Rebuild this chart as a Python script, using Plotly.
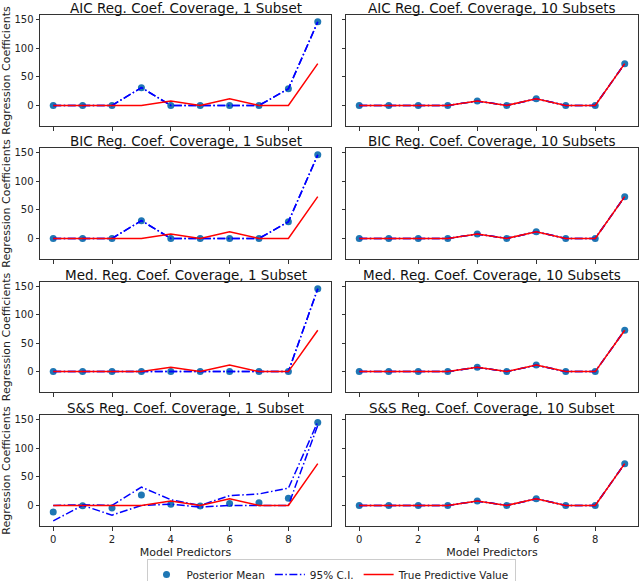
import plotly.graph_objects as go

# ---------------- data ----------------
predictors = [0, 1, 2, 3, 4, 5, 6, 7, 8, 9]
true_values = [0, 0, 0, 0, 7.5, 0, 11.5, 0, 0, 73]

aic1_mean = [0, 0, 0, 31, 0, 0, 0, 0, 29, 146]
aic1_lower = [0, 0, 0, 31, 0, 0, 0, 0, 29, 146]
aic1_upper = [0, 0, 0, 31, 0, 0, 0, 0, 29, 146]
aic10_mean = [0, 0, 0, 0, 7.5, 0, 11.5, 0, 0, 73]
aic10_lower = [0, 0, 0, 0, 7.5, 0, 11.5, 0, 0, 73]
aic10_upper = [0, 0, 0, 0, 7.5, 0, 11.5, 0, 0, 73]

bic1_mean = [0, 0, 0, 31, 0, 0, 0, 0, 29, 146]
bic1_lower = [0, 0, 0, 31, 0, 0, 0, 0, 29, 146]
bic1_upper = [0, 0, 0, 31, 0, 0, 0, 0, 29, 146]
bic10_mean = [0, 0, 0, 0, 7.5, 0, 11.5, 0, 0, 73]
bic10_lower = [0, 0, 0, 0, 7.5, 0, 11.5, 0, 0, 73]
bic10_upper = [0, 0, 0, 0, 7.5, 0, 11.5, 0, 0, 73]

med1_mean = [0, 0, 0, 0, 0, 0, 0, 0, 0, 146]
med1_lower = [0, 0, 0, 0, 0, 0, 0, 0, 0, 146]
med1_upper = [0, 0, 0, 0, 0, 0, 0, 0, 0, 146]
med10_mean = [0, 0, 0, 0, 7.5, 0, 11.5, 0, 0, 73]
med10_lower = [0, 0, 0, 0, 7.5, 0, 11.5, 0, 0, 73]
med10_upper = [0, 0, 0, 0, 7.5, 0, 11.5, 0, 0, 73]

ss1_mean = [-11.5, -0.5, -4.5, 18, 2, -1, 3.5, 4.5, 12.5, 145]
ss1_lower = [-27, 0, -17, 0, 2, -3, 0, 0, 0, 140]
ss1_upper = [0, 1, 0, 32, 10, 0, 17, 20, 30, 146]
ss10_mean = [0, 0, 0, 0, 7.5, 0, 11.5, 0, 0, 73]
ss10_lower = [0, 0, 0, 0, 7.5, 0, 11.5, 0, 0, 73]
ss10_upper = [0, 0, 0, 0, 7.5, 0, 11.5, 0, 0, 73]

titles = [
    "AIC Reg. Coef. Coverage, 1 Subset", "AIC Reg. Coef. Coverage, 10 Subsets",
    "BIC Reg. Coef. Coverage, 1 Subset", "BIC Reg. Coef. Coverage, 10 Subsets",
    "Med. Reg. Coef. Coverage, 1 Subset", "Med. Reg. Coef. Coverage, 10 Subsets",
    "S&S Reg. Coef. Coverage, 1 Subset", "S&S Reg. Coef. Coverage, 10 Subset",
]
y_ticks = [0, 50, 100, 150]
x_ticks = [0, 2, 4, 6, 8]
legend_names = ["Posterior Mean", "95% C.I.", "True Predictive Value"]

panels = [
    (aic1_mean, aic1_lower, aic1_upper), (aic10_mean, aic10_lower, aic10_upper),
    (bic1_mean, bic1_lower, bic1_upper), (bic10_mean, bic10_lower, bic10_upper),
    (med1_mean, med1_lower, med1_upper), (med10_mean, med10_lower, med10_upper),
    (ss1_mean, ss1_lower, ss1_upper), (ss10_mean, ss10_lower, ss10_upper),
]

# ---------------- layout geometry ----------------
W, H = 640, 581
ML, MR, MT, MB = 40, 2, 15, 55
PW = W - ML - MR
PH = H - MT - MB
row_px = [(15, 126), (148, 259), (282, 392), (415, 526)]
col_px = [(40, 331), (346, 638)]

def ydom(a, b):
    return [1 - (b - MT) / PH, 1 - (a - MT) / PH]

def xdom(a, b):
    return [(a - ML) / PW, (b - ML) / PW]

FONT = "DejaVu Sans"
BLUE_PT = "#1f77b4"
fig = go.Figure()
layout = dict(
    width=W, height=H,
    margin=dict(l=ML, r=MR, t=MT, b=MB, autoexpand=False),
    paper_bgcolor="white", plot_bgcolor="white",
    font=dict(family=FONT, size=10, color="#222"),
    showlegend=True,
    legend=dict(orientation="h", x=(331 - ML) / PW, xanchor="center",
                y=(MT + PH - 559) / PH, yanchor="top",
                bordercolor="#cccccc", borderwidth=1,
                font=dict(family=FONT, size=10.5, color="#222"),
                itemwidth=30, tracegroupgap=0),
)
annotations = []

for i, (mean, lo, hi) in enumerate(panels):
    r, c = divmod(i, 2)
    k = i + 1
    xa = "x" if k == 1 else f"x{k}"
    ya = "y" if k == 1 else f"y{k}"
    first = (i == 0)
    fig.add_trace(go.Scatter(x=predictors, y=mean, mode="markers",
                             marker=dict(color=BLUE_PT, size=7),
                             name=legend_names[0], legendgroup="m", showlegend=first,
                             xaxis=xa, yaxis=ya))
    fig.add_trace(go.Scatter(x=predictors, y=lo, mode="lines",
                             line=dict(color="#0000ff", width=1.5, dash="8px,2.5px,1.5px,2.5px"),
                             name=legend_names[1], legendgroup="ci", showlegend=first,
                             xaxis=xa, yaxis=ya))
    fig.add_trace(go.Scatter(x=predictors, y=hi, mode="lines",
                             line=dict(color="#0000ff", width=1.5, dash="8px,2.5px,1.5px,2.5px"),
                             name=legend_names[1], legendgroup="ci", showlegend=False,
                             xaxis=xa, yaxis=ya))
    fig.add_trace(go.Scatter(x=predictors, y=true_values, mode="lines",
                             line=dict(color="#ff0000", width=1.5),
                             name=legend_names[2], legendgroup="t", showlegend=first,
                             xaxis=xa, yaxis=ya))
    axcommon = dict(showline=True, linecolor="#333", linewidth=1, mirror=True,
                    showgrid=False, zeroline=False, ticks="outside", ticklen=3.5,
                    tickcolor="#333", automargin=False,
                    tickfont=dict(family=FONT, size=10, color="#222"))
    xkey = "xaxis" if k == 1 else f"xaxis{k}"
    ykey = "yaxis" if k == 1 else f"yaxis{k}"
    layout[xkey] = dict(axcommon, domain=xdom(*col_px[c]), anchor=ya,
                        range=[-0.45, 9.45], tickvals=x_ticks,
                        showticklabels=(r == 3),
                        title=dict(text="Model Predictors" if r == 3 else "",
                                   font=dict(family=FONT, size=11, color="#222"), standoff=4))
    layout[ykey] = dict(axcommon, domain=ydom(*row_px[r]), anchor=xa,
                        range=[-36, 158], tickvals=y_ticks,
                        showticklabels=(c == 0),
                        title=dict(text="Regression Coefficients" if c == 0 else "",
                                   font=dict(family=FONT, size=11, color="#222"), standoff=4))
    annotations.append(dict(text=titles[i], xref="paper", yref="paper",
                            x=sum(xdom(*col_px[c])) / 2, y=ydom(*row_px[r])[1],
                            xanchor="center", yanchor="bottom", yshift=-2, borderpad=0,
                            showarrow=False,
                            font=dict(family=FONT, size=13.5, color="#111")))

layout["annotations"] = annotations
fig.update_layout(**layout)
fig.write_html("out.html", config={"displayModeBar": False},
               post_script="document.body.style.margin='0';document.body.style.overflow='hidden';")
